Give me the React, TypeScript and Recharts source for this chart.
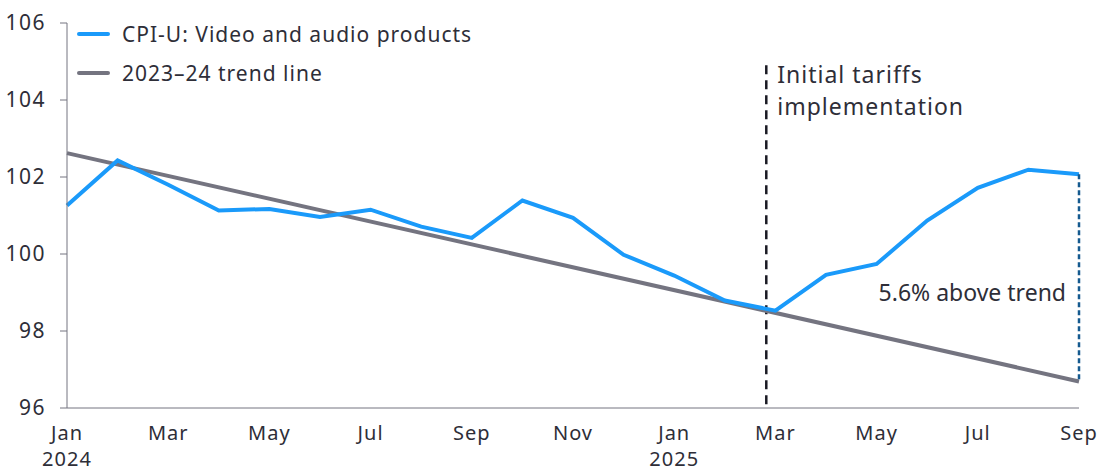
import {
  LineChart,
  Line,
  XAxis,
  YAxis,
  ReferenceLine,
} from 'recharts'

const months = [
  'Jan 2024', 'Feb 2024', 'Mar 2024', 'Apr 2024', 'May 2024', 'Jun 2024', 'Jul 2024',
  'Aug 2024', 'Sep 2024', 'Oct 2024', 'Nov 2024', 'Dec 2024', 'Jan 2025', 'Feb 2025',
  'Mar 2025', 'Apr 2025', 'May 2025', 'Jun 2025', 'Jul 2025', 'Aug 2025', 'Sep 2025',
]

const cpiVideoAudio = [
  101.26, 102.43, 101.8, 101.13, 101.17, 100.96, 101.15, 100.71, 100.42, 101.39, 100.94,
  99.98, 99.44, 98.79, 98.53, 99.46, 99.74, 100.87, 101.72, 102.19, 102.07,
]

// trend line endpoints only (straight line, drawn with connectNulls)
const trendStart = 102.62
const trendEnd = 96.69

const yTicks = [96, 98, 100, 102, 104, 106]
const xTicks = [0, 2, 4, 6, 8, 10, 12, 14, 16, 18, 20]

const tariffLinePos = 13.82
const tariffLineTop = 104.9

const BLUE = '#1A9AFA'
const GREY = '#747480'
const TEXT = '#2E2E38'
const FONT = '"Noto Sans", sans-serif'

const data = months.map((m, i) => ({
  idx: i,
  name: m,
  cpi: cpiVideoAudio[i],
  trend: i === 0 ? trendStart : i === months.length - 1 ? trendEnd : null,
}))

function MonthTick({ x, y, payload }: any) {
  const [mon, year] = months[payload.value].split(' ')
  return (
    <g>
      <text x={x} y={y + 32} textAnchor="middle" fill={TEXT} fontSize={20} fontFamily={FONT} letterSpacing={1}>
        {mon}
      </text>
      {mon === 'Jan' && (
        <text x={x} y={y + 58} textAnchor="middle" fill={TEXT} fontSize={20} fontFamily={FONT} letterSpacing={1}>
          {year}
        </text>
      )}
    </g>
  )
}

function LegendBox() {
  const rows = [
    { color: BLUE, label: 'CPI-U: Video and audio products' },
    { color: GREY, label: '2023–24 trend line' },
  ]
  return (
    <div
      style={{
        position: 'absolute',
        left: 77,
        top: 14,
        fontFamily: FONT,
        fontSize: 21,
        letterSpacing: 1,
        color: TEXT,
        pointerEvents: 'none',
      }}
    >
      {rows.map((r) => (
        <div key={r.label} style={{ display: 'flex', alignItems: 'center', height: 39 }}>
          <span style={{ width: 33, height: 4, background: r.color, marginRight: 12, borderRadius: 2 }} />
          <span>{r.label}</span>
        </div>
      ))}
    </div>
  )
}

export default function App() {
  return (
    <div style={{ position: 'absolute', left: 0, top: 0, width: 1107, height: 472, background: '#fff' }}>
      <LineChart
        width={1107}
        height={472}
        data={data}
        margin={{ top: 23, right: 28, bottom: 14, left: 0 }}
      >
        <XAxis
          dataKey="idx"
          type="number"
          domain={[0, 20]}
          ticks={xTicks}
          tick={<MonthTick />}
          tickLine={false}
          tickSize={0}
          tickMargin={0}
          axisLine={{ stroke: GREY, strokeWidth: 1 }}
          height={50}
          interval={0}
        />
        <YAxis
          domain={[96, 106]}
          ticks={yTicks}
          width={67}
          tickSize={7}
          tickMargin={14}
          tickLine={{ stroke: GREY }}
          axisLine={{ stroke: GREY, strokeWidth: 1 }}
          tick={{ fontSize: 21, fill: TEXT, fontFamily: FONT, letterSpacing: 1.5 }}
          interval={0}
        />
        <ReferenceLine
          segment={[
            { x: tariffLinePos, y: tariffLineTop },
            { x: tariffLinePos, y: 96 },
          ]}
          stroke="#1A1A24"
          strokeWidth={2.5}
          strokeDasharray="9 6"
          label={(props: any) => {
            const vb = props.viewBox || {}
            const x = (vb.x ?? 0) + 11
            const y = vb.y ?? 0
            return (
              <text x={x} y={y} fill={TEXT} fontSize={23} fontFamily={FONT} letterSpacing={1}>
                <tspan x={x} dy={18}>Initial tariffs</tspan>
                <tspan x={x} dy={32}>implementation</tspan>
              </text>
            )
          }}
        />
        <Line
          type="linear"
          dataKey="trend"
          stroke={GREY}
          strokeWidth={4}
          dot={false}
          connectNulls
          isAnimationActive={false}
        />
        <Line
          type="linear"
          dataKey="cpi"
          stroke={BLUE}
          strokeWidth={4}
          dot={false}
          isAnimationActive={false}
        />
        <ReferenceLine
          segment={[
            { x: 20, y: cpiVideoAudio[20] },
            { x: 20, y: trendEnd },
          ]}
          stroke="#155A8F"
          strokeWidth={2.5}
          strokeDasharray="5 3"
          label={(props: any) => {
            const vb = props.viewBox || {}
            const x = (vb.x ?? 0) - 13
            const y = (vb.y ?? 0) + 127
            return (
              <text x={x} y={y} textAnchor="end" fill={TEXT} fontSize={23} fontFamily={FONT}>
                5.6% above trend
              </text>
            )
          }}
        />
      </LineChart>
      <LegendBox />
    </div>
  )
}
